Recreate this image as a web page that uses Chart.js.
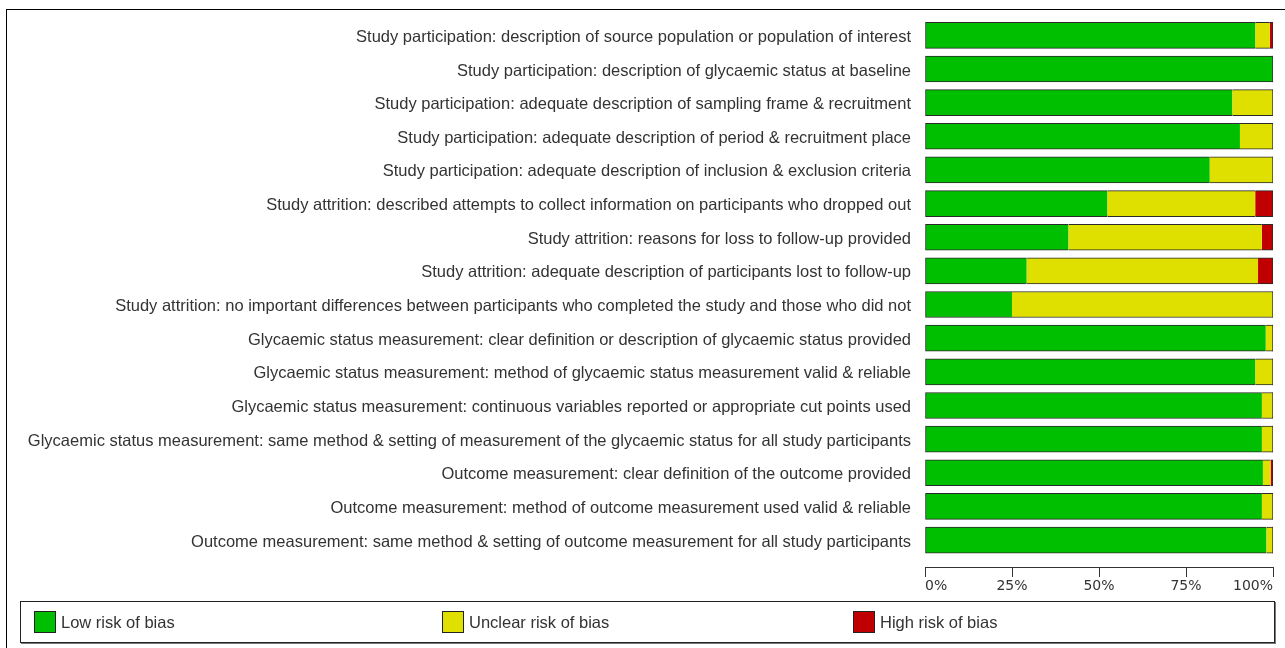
<!DOCTYPE html>
<html>
<head>
<meta charset="utf-8">
<script src="https://cdn.jsdelivr.net/npm/chart.js@4"></script>
<style>
  html, body { margin: 0; padding: 0; background: #fff; width: 1285px; height: 648px; overflow: hidden; }
  #frame { position: absolute; left: 6px; top: 9px; width: 1300px; height: 700px; border: 1px solid #000; box-sizing: border-box; }
  #wrap { position: absolute; left: 0; top: 0; width: 1285px; height: 648px; }
  #legend { position: absolute; left: 20px; top: 601px; width: 1255px; height: 42px; border: 1px solid #222; box-shadow: 1px 1px 0 #777; box-sizing: border-box; font-family: "Liberation Sans", Arial, sans-serif; font-size: 16.5px; color: #333; }
  .item { position: absolute; top: 9px; height: 22px; display: flex; align-items: center; }
  .sw { width: 22px; height: 22px; border: 1px solid #222; box-sizing: border-box; margin-right: 5px; }
</style>
</head>
<body>
<div id="frame"></div>
<div id="wrap"><canvas id="c" width="1285" height="648"></canvas></div>
<div id="legend"></div>
<script>
const categories = [
  "Study participation: description of source population or population of interest",
  "Study participation: description of glycaemic status at baseline",
  "Study participation: adequate description of sampling frame & recruitment",
  "Study participation: adequate description of period & recruitment place",
  "Study participation: adequate description of inclusion & exclusion criteria",
  "Study attrition: described attempts to collect information on participants who dropped out",
  "Study attrition: reasons for loss to follow-up provided",
  "Study attrition: adequate description of participants lost to follow-up",
  "Study attrition: no important differences between participants who completed the study and those who did not",
  "Glycaemic status measurement: clear definition or description of glycaemic status provided",
  "Glycaemic status measurement: method of glycaemic status measurement valid & reliable",
  "Glycaemic status measurement: continuous variables reported or appropriate cut points used",
  "Glycaemic status measurement: same method & setting of measurement of the glycaemic status for all study participants",
  "Outcome measurement: clear definition of the outcome provided",
  "Outcome measurement: method of outcome measurement used valid & reliable",
  "Outcome measurement: same method & setting of outcome measurement for all study participants"
];
const lowRisk     = [94.9, 100, 88.3, 90.5, 81.8, 52.4, 41.2, 29.2, 25.0, 97.9, 94.9, 96.8, 96.8, 97.1, 96.8, 98.1];
const unclearRisk = [4.2,   0,  11.7,  9.5, 18.2, 42.5, 55.6, 66.5, 75.0,  2.1,  5.1,  3.2,  3.2,  2.2,  3.2,  1.9];
const highRisk    = [0.9,   0,   0,    0,    0,    5.1,  3.2,  4.3,  0,    0,    0,    0,    0,    0.7,  0,    0];
const xTicks = [0, 25, 50, 75, 100];
const seriesNames = ["Low risk of bias", "Unclear risk of bias", "High risk of bias"];
const seriesColors = ["#00BF00", "#E0E000", "#C00000"];

const allSeries = [lowRisk, unclearRisk, highRisk];

function borderFor(ctx) {
  const i = ctx.dataIndex, d = ctx.datasetIndex;
  if (i === undefined || !allSeries[d]) return 0;
  if (!(allSeries[d][i] > 0)) return 0;
  let first = -1, last = -1;
  for (let k = 0; k < allSeries.length; k++) {
    if (allSeries[k][i] > 0) { if (first < 0) first = k; last = k; }
  }
  return { top: 1, bottom: 1, left: d === first ? 1 : 0, right: d === last ? 1 : 0 };
}

const datasets = allSeries.map((arr, k) => ({
  label: seriesNames[k],
  data: arr.map((v, i) => ({ x: v, y: i })),
  backgroundColor: seriesColors[k],
  borderColor: "#2a2a2a",
  borderWidth: borderFor,
  borderSkipped: false,
  barThickness: 26
}));

new Chart(document.getElementById("c"), {
  type: "bar",
  data: { datasets },
  options: {
    indexAxis: "y",
    responsive: false,
    animation: false,
    events: [],
    layout: { padding: { left: 0, right: 12, top: 18.5, bottom: 51 } },
    plugins: { legend: { display: false }, tooltip: { enabled: false } },
    scales: {
      y: {
        type: "linear",
        reverse: true,
        stacked: true,
        offset: false,
        min: -0.5,
        max: 15.8,
        grid: { display: true, drawOnChartArea: false, drawTicks: true, tickLength: 14, color: "rgba(0,0,0,0)", offset: false },
        border: { display: false },
        afterBuildTicks: (s) => { s.ticks = categories.map((_, i) => ({ value: i })); },
        afterFit: (s) => { s.width = 925; },
        ticks: {
          autoSkip: false,
          padding: 0,
          labelOffset: 2,
          color: "#333",
          font: { family: "'Liberation Sans', Arial, sans-serif", size: 16.5 },
          callback: (v) => categories[v]
        }
      },
      x: {
        type: "linear",
        stacked: true,
        min: 0,
        max: 100,
        afterBuildTicks: (s) => { s.ticks = xTicks.map(v => ({ value: v })); },
        afterFit: (s) => { s.height = 30; },
        grid: { drawOnChartArea: false, drawTicks: true, tickLength: 10, color: "#333", lineWidth: 1 },
        border: { display: true, color: "#333", width: 1 },
        ticks: {
          align: "inner",
          padding: 1,
          color: "#333",
          font: { family: "'DejaVu Sans', sans-serif", size: 14 },
          callback: (v) => v + "%"
        }
      }
    }
  }
});

const legend = document.getElementById("legend");
const lefts = [13, 421, 832];
seriesNames.forEach((name, k) => {
  const it = document.createElement("div");
  it.className = "item";
  it.style.left = lefts[k] + "px";
  const sw = document.createElement("div");
  sw.className = "sw";
  sw.style.background = seriesColors[k];
  const t = document.createElement("span");
  t.textContent = name;
  it.appendChild(sw); it.appendChild(t);
  legend.appendChild(it);
});
</script>
</body>
</html>
